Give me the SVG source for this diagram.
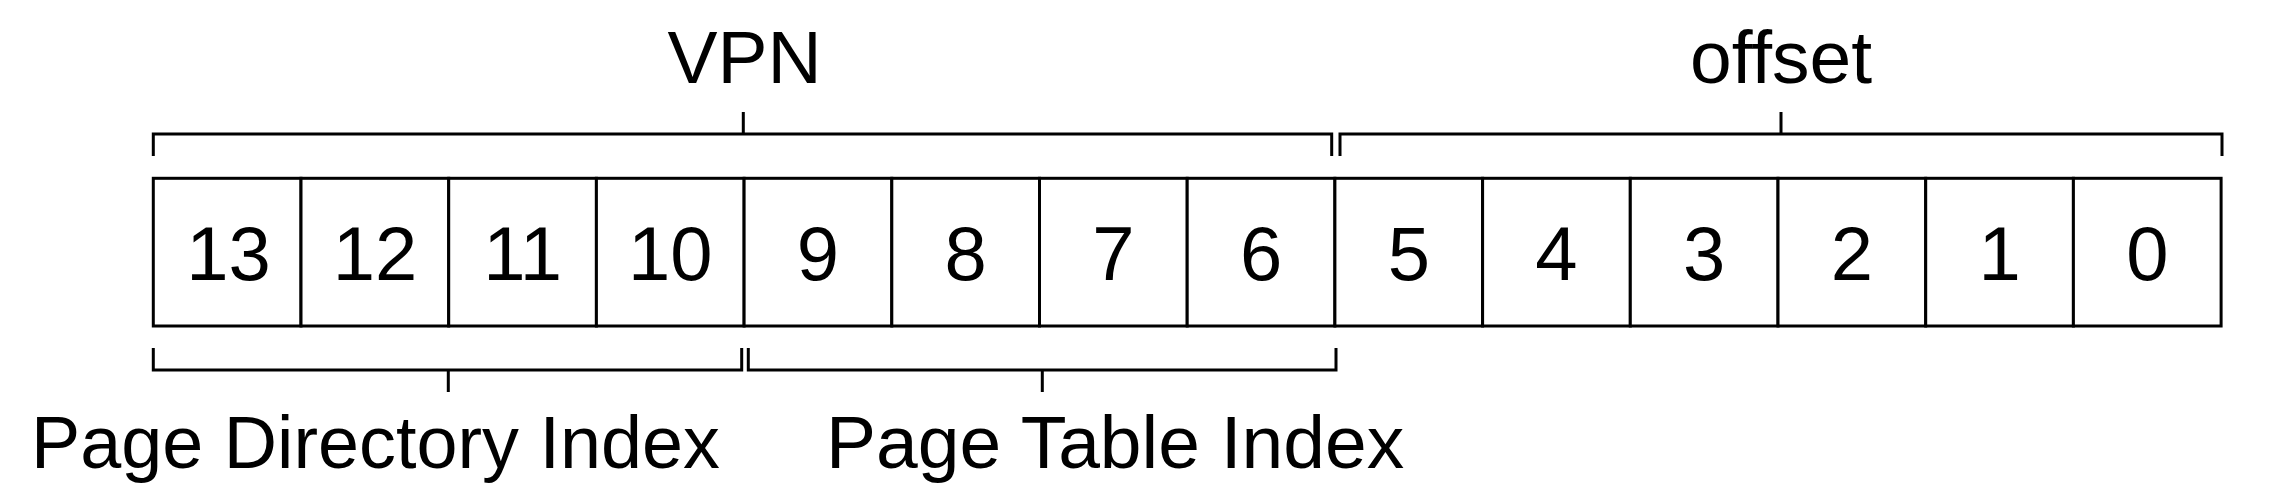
<svg xmlns="http://www.w3.org/2000/svg" width="2286" height="494" viewBox="0 0 2286 494">
<style>
.ln{fill:none;stroke:#000;stroke-width:3;stroke-linecap:butt;stroke-linejoin:miter}
.cell{fill:#fff;stroke:#000;stroke-width:3}
.d{font-family:"Liberation Sans",Arial,sans-serif;font-size:76px;text-anchor:middle;fill:#000}
.lb{font-family:"Liberation Sans",Arial,sans-serif;font-size:75px;fill:#000}
</style>
<rect width="2286" height="494" fill="#fff"/>
<g id="cells">
<g id="bit13"><rect class="cell" x="153.3" y="178.3" width="147.7" height="147.7"/><text class="d" x="228.5" y="280">13</text></g>
<g id="bit12"><rect class="cell" x="301" y="178.3" width="147.7" height="147.7"/><text class="d" x="374.9" y="280">12</text></g>
<g id="bit11"><rect class="cell" x="448.7" y="178.3" width="147.7" height="147.7"/><text class="d" x="522.6" y="280">11</text></g>
<g id="bit10"><rect class="cell" x="596.4" y="178.3" width="147.7" height="147.7"/><text class="d" x="670.3" y="280">10</text></g>
<g id="bit9"><rect class="cell" x="744.1" y="178.3" width="147.7" height="147.7"/><text class="d" x="818" y="280">9</text></g>
<g id="bit8"><rect class="cell" x="891.8" y="178.3" width="147.7" height="147.7"/><text class="d" x="965.7" y="280">8</text></g>
<g id="bit7"><rect class="cell" x="1039.5" y="178.3" width="147.7" height="147.7"/><text class="d" x="1113.4" y="280">7</text></g>
<g id="bit6"><rect class="cell" x="1187.2" y="178.3" width="147.7" height="147.7"/><text class="d" x="1261.1" y="280">6</text></g>
<g id="bit5"><rect class="cell" x="1334.9" y="178.3" width="147.7" height="147.7"/><text class="d" x="1408.8" y="280">5</text></g>
<g id="bit4"><rect class="cell" x="1482.6" y="178.3" width="147.7" height="147.7"/><text class="d" x="1556.5" y="280">4</text></g>
<g id="bit3"><rect class="cell" x="1630.3" y="178.3" width="147.7" height="147.7"/><text class="d" x="1704.2" y="280">3</text></g>
<g id="bit2"><rect class="cell" x="1778" y="178.3" width="147.7" height="147.7"/><text class="d" x="1851.9" y="280">2</text></g>
<g id="bit1"><rect class="cell" x="1925.7" y="178.3" width="147.7" height="147.7"/><text class="d" x="1999.6" y="280">1</text></g>
<g id="bit0"><rect class="cell" x="2073.4" y="178.3" width="147.7" height="147.7"/><text class="d" x="2147.3" y="280">0</text></g>
</g>
<g id="connectors">
<path class="ln" d="M153.3,156 V134 H1331.7 V156 M743.3,134 V112"/>
<path class="ln" d="M1340,156 V134 H2222 V156 M1781,134 V112"/>
<path class="ln" d="M153.3,348 V370 H741.7 V348 M448.3,370 V392"/>
<path class="ln" d="M748.3,348 V370 H1336 V348 M1042.3,370 V392"/>
</g>
<g id="labels">
<text id="vpn" class="lb" x="744.5" y="82.7" text-anchor="middle">VPN</text>
<text id="offset" class="lb" x="1781" y="82.7" text-anchor="middle">offset</text>
<text id="pdi" class="lb" x="31" y="468" textLength="689" lengthAdjust="spacingAndGlyphs">Page Directory Index</text>
<text id="pti" class="lb" x="826" y="468">Page Table Index</text>
</g>
</svg>
